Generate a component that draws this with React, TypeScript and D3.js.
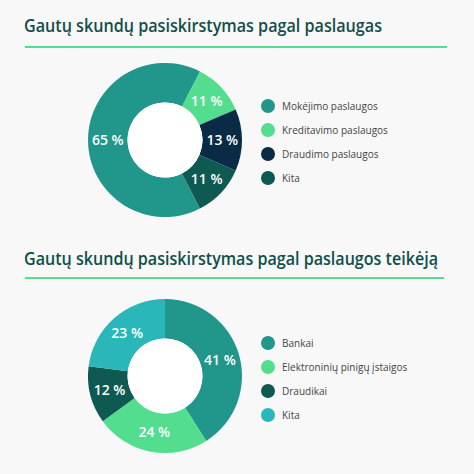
import { useEffect, useRef } from "react";
import * as d3 from "d3";

const title1 = "Gautų skundų pasiskirstymas pagal paslaugas";
const services = ["Mokėjimo paslaugos", "Kreditavimo paslaugos", "Draudimo paslaugos", "Kita"];
const serviceValues = [65, 11, 13, 11];
const serviceColors = ["#21968a", "#52dd8f", "#0b2a45", "#0e5a52"];

const title2 = "Gautų skundų pasiskirstymas pagal paslaugos teikėją";
const providers = ["Bankai", "Elektroninių pinigų įstaigos", "Draudikai", "Kita"];
const providerValues = [41, 24, 12, 23];
const providerColors = ["#21968a", "#52dd8f", "#0e5a52", "#2ab7ba"];

const W = 474;
const H = 474;
const FONT = "'Open Sans', 'Noto Sans', sans-serif";

type Block = {
  title: string;
  titleY: number;
  titleW: number;
  lineY: number;
  lineX2: number;
  cy: number;
  names: string[];
  values: number[];
  colors: string[];
  startAngle: number;
  legendY: number;
};

export default function App() {
  const ref = useRef<SVGSVGElement | null>(null);

  useEffect(() => {
    if (!ref.current) return;
    const svg = d3.select(ref.current);
    svg.selectAll("*").remove();

    svg.append("rect").attr("width", W).attr("height", H).attr("fill", "#f8f8f9");

    const blocks: Block[] = [
      {
        title: title1,
        titleY: 32,
        titleW: 358,
        lineY: 47,
        lineX2: 447,
        cy: 140,
        names: services,
        values: serviceValues,
        colors: serviceColors,
        // first slice centred on the left side
        startAngle: -Math.PI / 2 - (serviceValues[0] / 100) * Math.PI,
        legendY: 106,
      },
      {
        title: title2,
        titleY: 265,
        titleW: 414,
        lineY: 278,
        lineX2: 444,
        cy: 376,
        names: providers,
        values: providerValues,
        colors: providerColors,
        startAngle: 0,
        legendY: 343,
      },
    ];

    const cx = 165;
    const outer = 77;
    const inner = 37.5;

    blocks.forEach((b) => {
      svg
        .append("text")
        .attr("x", 24)
        .attr("y", b.titleY)
        .attr("font-family", FONT)
        .attr("font-weight", 600)
        .attr("font-size", 17.5)
        .attr("fill", "#0f4f49")
        .attr("textLength", b.titleW)
        .attr("lengthAdjust", "spacingAndGlyphs")
        .text(b.title);

      svg
        .append("line")
        .attr("x1", 25)
        .attr("x2", b.lineX2)
        .attr("y1", b.lineY)
        .attr("y2", b.lineY)
        .attr("stroke", "#52dd8f")
        .attr("stroke-width", 2);

      const pie = d3
        .pie<number>()
        .sort(null)
        .value((d) => d)
        .startAngle(b.startAngle)
        .endAngle(b.startAngle + 2 * Math.PI);
      const arcs = pie(b.values);
      const arc = d3.arc<d3.PieArcDatum<number>>().innerRadius(inner).outerRadius(outer);

      const g = svg.append("g").attr("transform", `translate(${cx},${b.cy})`);
      g.selectAll("path")
        .data(arcs)
        .join("path")
        .attr("d", arc)
        .attr("fill", (_, i) => b.colors[i]);
      g.append("circle").attr("r", inner).attr("fill", "#ffffff");

      g.selectAll("text")
        .data(arcs)
        .join("text")
        .attr("transform", (d) => `translate(${arc.centroid(d)})`)
        .attr("text-anchor", "middle")
        .attr("dy", "0.36em")
        .attr("font-family", FONT)
        .attr("font-weight", 600)
        .attr("font-size", 14)
        .attr("fill", "#ffffff")
        .text((d) => `${d.data} %`);

      const y = d3
        .scalePoint<string>()
        .domain(b.names)
        .range([b.legendY, b.legendY + 72]);
      const lg = svg.append("g");
      lg.selectAll("circle")
        .data(b.names)
        .join("circle")
        .attr("cx", 268)
        .attr("cy", (d) => y(d) ?? 0)
        .attr("r", 7)
        .attr("fill", (_, i) => b.colors[i]);
      lg.selectAll("text")
        .data(b.names)
        .join("text")
        .attr("x", 282)
        .attr("y", (d) => y(d) ?? 0)
        .attr("dy", "0.35em")
        .attr("font-family", FONT)
        .attr("font-size", 10)
        .attr("fill", "#444444")
        .text((d) => d);
    });
  }, []);

  return (
    <svg
      ref={ref}
      width={W}
      height={H}
      style={{ position: "absolute", left: 0, top: 0, display: "block" }}
    />
  );
}
